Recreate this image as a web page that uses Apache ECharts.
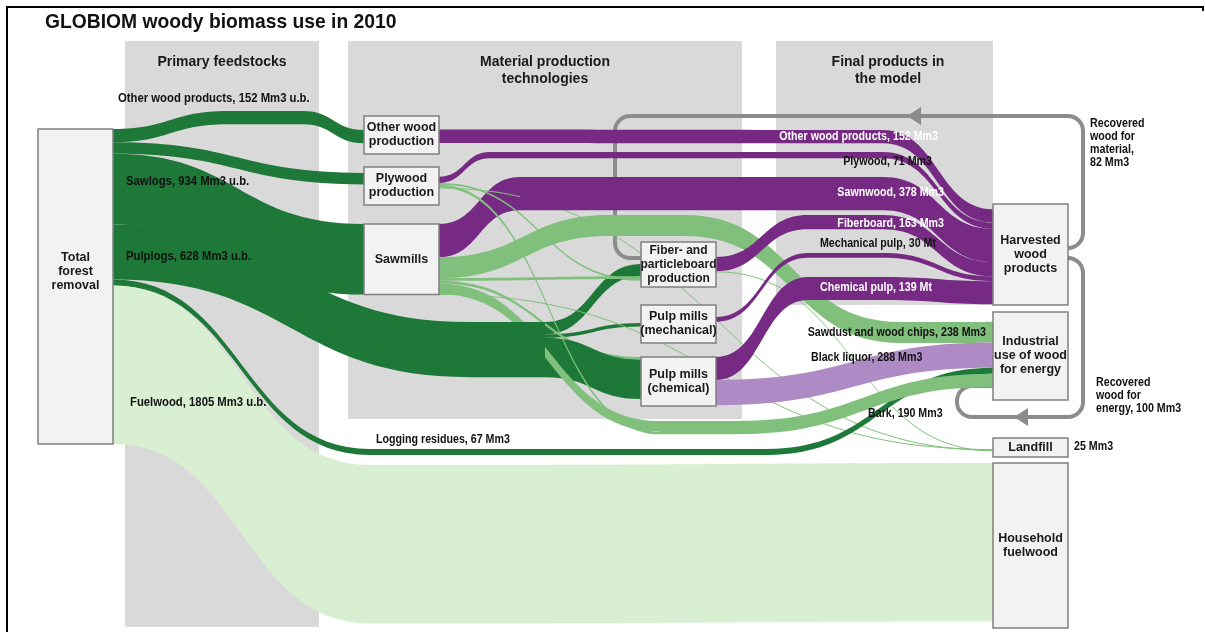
<!DOCTYPE html>
<html>
<head>
<meta charset="utf-8">
<script src="https://cdn.jsdelivr.net/npm/echarts@6/dist/echarts.min.js"></script>
<style>
html,body{margin:0;padding:0;background:#ffffff;}
#chart{width:1205px;height:632px;}
</style>
</head>
<body>
<div id="chart"></div>
<script>
// ===================== DATA =====================
// Boxes of the diagram (sankey nodes) and the size of each box (Mm3 equivalent)
const nodeKeys   = ['total','owp','ply','saw','fib','mech','chem','hwp','ind','land','hh'];
const nodeLabels = ['Total\nforest\nremoval','Other wood\nproduction','Plywood\nproduction','Sawmills',
                    'Fiber- and\nparticleboard\nproduction','Pulp mills\n(mechanical)','Pulp mills\n(chemical)',
                    'Harvested\nwood\nproducts','Industrial\nuse of wood\nfor energy','Landfill','Household\nfuelwood'];
const nodeValues = [3586, 432, 432, 804, 512, 432, 558, 1150, 1002, 216, 1877];

// Routing points that give the bands their shape (drawn in the colour of the band)
const routeKeys  = ['r-hump','r-pulplogs','r-residues1','r-residues2','r-fuelwood',
                    'r-plywood1','r-plywood2','r-sawnwood1','r-sawnwood2','r-otherwood',
                    'r-fiberboard','r-mechpulp','r-chempulp','r-sawdust1','r-sawdust2','r-bark'];
const routeKinds = ['dark','dark','dark','dark','fuel',
                    'purple','purple','purple','purple','purple',
                    'purple','purple','purple','light','light','light'];
// spacing nodes (invisible) used to centre flows inside boxes
const padKeys = ['pad-in','pad-out'];

// Flows (order = stacking order on each box side)
const flowSource = [
  'pad-in','pad-in','pad-in','pad-in','pad-in','pad-in','pad-in',
  'total','total','total','total','total','total',
  'r-hump','owp','owp','ply','ply','r-plywood1',
  'saw','r-sawnwood1','saw','r-sawdust1','r-sawdust2',
  'r-pulplogs','saw','ply','r-pulplogs','saw','r-pulplogs','saw','ply','saw','ply',
  'fib','fib','fib','mech','mech','chem','chem',
  'r-residues1','r-residues2','r-bark','r-fuelwood',
  'r-otherwood','r-plywood2','r-sawnwood2','r-fiberboard','r-mechpulp','r-chempulp'
];
const flowTarget = [
  'owp','ply','fib','mech','hwp','ind','land',
  'r-hump','ply','saw','r-pulplogs','r-residues1','r-fuelwood',
  'owp','pad-out','r-otherwood','pad-out','r-plywood1','r-plywood2',
  'r-sawnwood1','r-sawnwood2','r-sawdust1','r-sawdust2','ind',
  'fib','fib','fib','mech','chem','chem','r-bark','r-bark','land','land',
  'pad-out','r-fiberboard','land','pad-out','r-mechpulp','r-chempulp','ind',
  'r-residues2','ind','ind','hh',
  'hwp','hwp','hwp','hwp','hwp','hwp'
];
const flowValue = [
  159, 68, 250, 205, 60, 110, 125,
  152, 130, 804, 628, 67, 1805,
  152, 155, 152, 110, 71, 71,
  378, 378, 238, 238, 238,
  140, 30, 20, 40, 30, 448, 120, 32, 8, 7,
  170, 163, 10, 137, 55, 262, 288,
  67, 67, 152, 1805,
  152, 71, 378, 163, 55, 262
];
const flowKind = [
  'pad','pad','pad','pad','pad','pad','pad',
  'dark','dark','dark','dark','dark','fuel',
  'dark','pad','purple','pad','purple','purple',
  'purple','purple','light','light','light',
  'dark','light','light','dark','light','dark','light','light','light','light',
  'pad','purple','light','pad','purple','purple','liquor',
  'dark','dark','light','fuel',
  'purple','purple','purple','purple','purple','purple'
];

// Flow annotations
const flowLabels = [
  'Other wood products, 152 Mm3 u.b.','Sawlogs, 934 Mm3 u.b.','Pulplogs, 628 Mm3 u.b.','Fuelwood, 1805 Mm3 u.b.',
  'Logging residues, 67 Mm3','Other wood products, 152 Mm3','Plywood, 71 Mm3','Sawnwood, 378 Mm3',
  'Fiberboard, 163 Mm3','Mechanical pulp, 30 Mt','Chemical pulp, 139 Mt','Sawdust and wood chips, 238 Mm3',
  'Black liquor, 288 Mm3','Bark, 190 Mm3','25 Mm3'
];
const recoveredLabels = ['Recovered\nwood for\nmaterial,\n82 Mm3','Recovered\nwood for\nenergy, 100 Mm3'];
const panelTitles = ['Primary feedstocks','Material production\ntechnologies','Final products in\nthe model'];
const chartTitle = 'GLOBIOM woody biomass use in 2010';

// ===================== LAYOUT & STYLE =====================
const SERIES_TOP = 129, SERIES_H = 315, SERIES_W = 1205;
const FONT = "'Liberation Sans',Arial,sans-serif";
const NARROW = 0.82;
const colors = {dark:'#1e7838', light:'#80c07c', fuel:'#d8efd2', purple:'#772a84', liquor:'#ae8bc4'};
const nodePos = {
  total:[38,129], owp:[364,116], ply:[364,167], saw:[364,224], fib:[641,242], mech:[641,305], chem:[641,357],
  hwp:[993,204], ind:[993,312], land:[993,438], hh:[993,463],
  'r-hump':[228,111], 'r-pulplogs':[470,322], 'r-residues1':[370,449], 'r-residues2':[691,449], 'r-fuelwood':[370,465],
  'r-plywood1':[490,152], 'r-plywood2':[808,152], 'r-sawnwood1':[520,177], 'r-sawnwood2':[808,177], 'r-otherwood':[808,130],
  'r-fiberboard':[808,215], 'r-mechpulp':[808,253], 'r-chempulp':[808,277], 'r-sawdust1':[610,215], 'r-sawdust2':[900,322], 'r-bark':[660,421]
};
const flowLabelPos = [
  [118,98,'left','#111',0.87],[126,181,'left','#111',0.87],[126,256,'left','#111',0.87],[130,402,'left','#111',0.87],
  [376,439,'left','#111',0.82],[938,136,'right','#fff',0.82],[932,161,'right','#111',0.82],[944,192,'right','#fff',0.82],
  [944,223,'right','#fff',0.82],[936,243,'right','#111',0.82],[932,287,'right','#fff',0.82],[986,332,'right','#111',0.82],
  [811,357,'left','#111',0.82],[868,413,'left','#111',0.82],[1074,446,'left','#111',0.82]
];

// ===================== BUILD =====================
const nodes = [];
nodeKeys.forEach((k, i) => nodes.push({name: k, value: nodeValues[i], label: {formatter: nodeLabels[i]}}));
routeKeys.forEach((k, i) => nodes.push({name: k, itemStyle: {color: colors[routeKinds[i]], borderWidth: 0}, label: {show: false}}));
padKeys.forEach(k => nodes.push({name: k, itemStyle: {opacity: 0, borderWidth: 0}, label: {show: false}}));
nodes.forEach((n, i) => {
  n.depth = i;
  const p = nodePos[n.name];
  if (p) { n.localX = p[0] / SERIES_W; n.localY = (p[1] - SERIES_TOP) / SERIES_H; }
});
nodes[0].label.offset = [0, -15];
nodes[4].label.fontSize = 12;

const links = flowSource.map((s, i) => ({
  source: s, target: flowTarget[i], value: flowValue[i],
  lineStyle: flowKind[i] === 'pad' ? {opacity: 0} : {color: colors[flowKind[i]], opacity: 1}
}));

const gray = '#8c8c8c';
const g = [];
// background panels
[[125,41,194,586],[348,41,394,378],[776,41,217,264]].forEach(r => g.push({
  type:'rect', z:0, silent:true, shape:{x:r[0], y:r[1], width:r[2], height:r[3]}, style:{fill:'#d9d9d9'}
}));
// recovered wood loops
function line(x1,y1,x2,y2){ g.push({type:'line', z:1, silent:true, shape:{x1,y1,x2,y2}, style:{stroke:gray, lineWidth:4, fill:'none'}}); }
function arc(cx,cy,a0,a1){ g.push({type:'arc', z:1, silent:true, shape:{cx,cy,r:15,startAngle:a0*Math.PI,endAngle:a1*Math.PI,clockwise:true}, style:{stroke:gray, lineWidth:4, fill:'none'}}); }
arc(1068,233,0,0.5); line(1083,233,1083,131); arc(1068,131,-0.5,0); line(1068,116,630,116);
arc(630,131,1,1.5); line(615,131,615,243); arc(630,243,0.5,1); line(630,258,641,258);
g.push({type:'polygon', z:1, silent:true, shape:{points:[[907,116],[921,107],[921,125]]}, style:{fill:gray}});
arc(1068,273,-0.5,0); line(1083,273,1083,402); arc(1068,402,0,0.5); line(1068,417,972,417);
arc(972,402,0.5,1); line(957,402,957,401); arc(972,401,1,1.5); line(972,386,993,386);
g.push({type:'polygon', z:1, silent:true, shape:{points:[[1014,417],[1028,408],[1028,426]]}, style:{fill:gray}});
// frame
g.push({type:'polyline', z:100, silent:true, shape:{points:[[7,640],[7,7],[1203,7],[1203,11]]}, style:{stroke:'#000', lineWidth:2, fill:'none'}});

function text(t, x, y, opts) {
  const o = Object.assign({align:'left', vAlign:'middle', color:'#111', size:13, weight:'bold', scale:NARROW, lh:null, family:FONT}, opts || {});
  const style = {text:t, x:0, y:0, fill:o.color, fontFamily:o.family, fontSize:o.size, fontWeight:o.weight,
    align:o.align, verticalAlign:o.vAlign, textAlign:o.align, textVerticalAlign:o.vAlign};
  if (o.lh) style.lineHeight = o.lh;
  g.push({type:'text', z:100, silent:true, x:x, y:y, scaleX:o.scale, scaleY:1, style:style});
}
// title
text(chartTitle, 45, 23, {size:19.3, scale:1, color:'#111'});
// panel titles
[[222,54],[545,54],[888,54]].forEach((p, i) => text(panelTitles[i], p[0], p[1], {align:'center', vAlign:'top', size:14, scale:1, lh:17, color:'#1a1a1a'}));
// flow labels
flowLabels.forEach((t, i) => { const p = flowLabelPos[i]; text(t, p[0], p[1], {align:p[2], color:p[3], scale:p[4]}); });
[[1090,117],[1096,376]].forEach((p, i) => text(recoveredLabels[i], p[0], p[1], {vAlign:'top', lh:13}));

const chart = echarts.init(document.getElementById('chart'));
chart.setOption({
  backgroundColor: '#ffffff',
  animation: false,
  graphic: {elements: g},
  series: [{
    type: 'sankey',
    z: 2,
    left: 0, top: SERIES_TOP, width: SERIES_W, height: SERIES_H,
    nodeWidth: 75, nodeGap: 8, layoutIterations: 0, nodeAlign: 'left', draggable: false,
    emphasis: {disabled: true},
    label: {show: true, position: 'inside', color: '#1a1a1a', fontFamily: FONT, fontSize: 12.5, fontWeight: 'bold', lineHeight: 14, align: 'center'},
    itemStyle: {color: '#f2f2f2', borderColor: '#808080', borderWidth: 1.5},
    lineStyle: {curveness: 0.5, opacity: 1},
    data: nodes,
    links: links
  }]
});
</script>
</body>
</html>
